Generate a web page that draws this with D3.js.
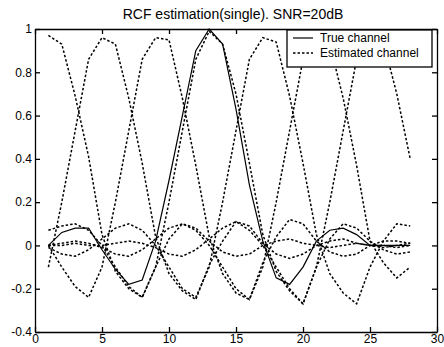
<!DOCTYPE html>
<html lang="en">
<head>
<meta charset="UTF-8">
<title>RCF estimation</title>
<style>
  body { margin: 0; background: #fff; }
  text { font-family: "Liberation Sans", Arial, sans-serif; fill: #000; }
</style>
</head>
<body>
<script src="https://d3js.org/d3.v7.min.js"></script>
<script>
    // sample index
    let samples = [1,2,3,4,5,6,7,8,9,10,11,12,13,14,15,16,17,18,19,20,21,22,23,24,25,26,27,28];

    let trueChannel = [0.00,0.06,0.08,0.08,-0.02,-0.11,-0.18,-0.16,0.02,0.30,0.60,0.90,1.00,0.93,
                       0.63,0.28,0.02,-0.15,-0.18,-0.10,0.02,0.07,0.08,0.05,0.00,0.00,0.00,0.00];

    // estimated channel, one curve per shift
    let est1 = [0.97,0.93,0.69,0.41,0.05,-0.12,-0.20,-0.24,-0.10,0.03,0.10,0.08,0.02,-0.03,
                -0.05,-0.04,0.00,0.02,0.03,0.01,0.00,-0.01,0.00,0.01,0.00,0.00,-0.01,0.00];
    let est2 = [-0.10,0.20,0.53,0.86,0.96,0.93,0.68,0.38,0.04,-0.13,-0.21,-0.25,-0.09,0.02,
                0.11,0.09,0.01,-0.04,-0.06,-0.04,0.00,0.02,0.03,0.01,0.00,-0.01,0.00,0.01];
    let est3 = [0.00,-0.10,-0.19,-0.24,-0.10,0.20,0.53,0.86,0.96,0.95,0.68,0.37,0.04,-0.13,
                -0.22,-0.25,-0.08,0.04,0.12,0.10,0.02,-0.03,-0.05,-0.04,0.00,0.02,0.02,0.01];
    let est4 = [0.07,0.09,0.10,0.07,0.00,-0.10,-0.19,-0.24,-0.10,0.20,0.53,0.86,0.99,0.93,
                0.70,0.38,0.05,-0.12,-0.21,-0.27,-0.10,0.03,0.10,0.08,0.02,-0.02,-0.04,-0.03];
    let est5 = [-0.01,-0.04,-0.05,-0.02,0.03,0.08,0.10,0.07,0.00,-0.10,-0.20,-0.24,-0.10,0.20,
                0.53,0.86,0.96,0.94,0.69,0.38,0.05,-0.13,-0.22,-0.27,-0.10,0.02,0.10,0.09];
    let est6 = [0.00,0.01,0.02,0.01,-0.01,-0.04,-0.05,-0.02,0.03,0.08,0.10,0.07,0.00,-0.10,
                -0.20,-0.25,-0.10,0.20,0.53,0.86,0.96,0.93,0.68,0.37,0.02,-0.08,-0.15,-0.10];
    let est7 = [0.00,0.00,0.01,0.00,0.00,0.01,0.02,0.01,-0.01,-0.04,-0.05,-0.02,0.03,0.08,
                0.11,0.07,0.00,-0.10,-0.20,-0.27,-0.10,0.20,0.53,0.86,0.96,0.94,0.70,0.40];
    let estimated = [est1, est2, est3, est4, est5, est6, est7];

    let xTicks = [0,5,10,15,20,25,30];
    let yTicks = [-0.4,-0.2,0,0.2,0.4,0.6,0.8,1];
    let title = 'RCF estimation(single). SNR=20dB';
    let legendLabels = ['True channel', 'Estimated channel'];

    let width = 444, height = 347;
    let padding = { top: 29, right: 7, bottom: 15, left: 35 };

    let svg = d3.select('body').append('svg')
        .attr('width', width)
        .attr('height', height);

    let xScale = d3.scaleLinear().domain([0, 30]).range([padding.left, width - padding.right]);
    let yScale = d3.scaleLinear().domain([-0.4, 1]).range([height - padding.bottom, padding.top]);

    let fmt = d => String(d);

    // axes, ticks pointing inward on all four sides
    svg.append('g')
        .attr('transform', 'translate(0,' + (height - padding.bottom) + ')')
        .call(d3.axisBottom(xScale).tickValues(xTicks).tickFormat(fmt).tickSizeInner(-5).tickSizeOuter(0).tickPadding(2));
    svg.append('g')
        .attr('transform', 'translate(0,' + padding.top + ')')
        .call(d3.axisTop(xScale).tickValues(xTicks).tickFormat('').tickSizeInner(-5).tickSizeOuter(0));
    svg.append('g')
        .attr('transform', 'translate(' + padding.left + ',0)')
        .call(d3.axisLeft(yScale).tickValues(yTicks).tickFormat(fmt).tickSizeInner(-5).tickSizeOuter(0).tickPadding(3));
    svg.append('g')
        .attr('transform', 'translate(' + (width - padding.right) + ',0)')
        .call(d3.axisRight(yScale).tickValues(yTicks).tickFormat('').tickSizeInner(-5).tickSizeOuter(0));

    svg.selectAll('.tick text')
        .style('font-size', '12px')
        .style('font-family', '"Liberation Sans", Arial, sans-serif');
    svg.selectAll('.domain, .tick line').attr('stroke', '#000').attr('stroke-width', 1.3);

    let line = d3.line()
        .x((d, i) => xScale(samples[i]))
        .y(d => yScale(d));

    svg.selectAll('path.est').data(estimated)
        .enter()
        .append('path')
        .attr('class', 'est')
        .attr('d', line)
        .attr('fill', 'none')
        .attr('stroke', '#000')
        .attr('stroke-width', 1.5)
        .attr('stroke-dasharray', '2.5,2');

    svg.append('path')
        .attr('d', line(trueChannel))
        .attr('fill', 'none')
        .attr('stroke', '#000')
        .attr('stroke-width', 1.2);

    // title
    svg.append('text')
        .attr('x', 233)
        .attr('y', 19)
        .attr('text-anchor', 'middle')
        .style('font-size', '14px')
        .text(title);

    // legend
    let lg = svg.append('g').attr('transform', 'translate(287,30)');
    lg.append('rect')
        .attr('width', 145).attr('height', 37)
        .attr('fill', '#fff').attr('stroke', '#000').attr('stroke-width', 1.3);
    lg.append('line').attr('x1', 6).attr('x2', 26).attr('y1', 8).attr('y2', 8)
        .attr('stroke', '#000').attr('stroke-width', 1.2);
    lg.append('line').attr('x1', 6).attr('x2', 26).attr('y1', 23).attr('y2', 23)
        .attr('stroke', '#000').attr('stroke-width', 1.5).attr('stroke-dasharray', '2.5,2');
    lg.selectAll('text.lab').data(legendLabels)
        .enter()
        .append('text')
        .attr('class', 'lab')
        .attr('x', 33)
        .attr('y', (d, i) => 12 + i * 15)
        .style('font-size', '12px')
        .text(d => d);
</script>
</body>
</html>
